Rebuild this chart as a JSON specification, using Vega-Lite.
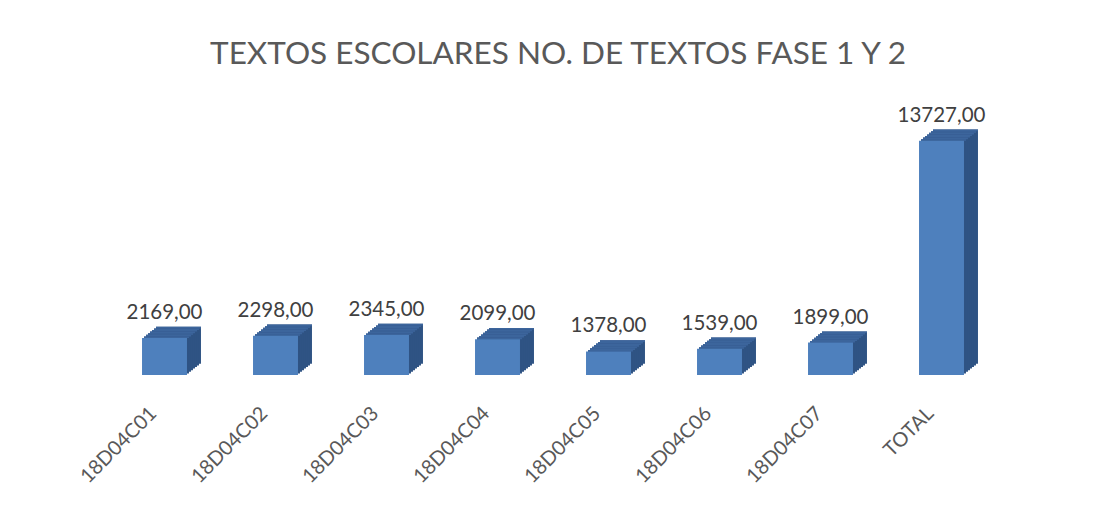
{
  "$schema": "https://vega.github.io/schema/vega-lite/v6.json",
  "autosize": "none",
  "width": 888,
  "height": 273,
  "padding": {"left": 109, "top": 102, "right": 104, "bottom": 133},
  "background": "white",
  "config": {"view": {"stroke": null}, "font": "Lato"},
  "title": {"text": "TEXTOS ESCOLARES NO. DE TEXTOS FASE 1 Y 2", "fontSize": 31.5, "font": "Lato", "fontWeight": "normal", "color": "#595959", "anchor": "middle", "baseline": "alphabetic", "offset": 7, "dx": 5},
  "data": {"values": [
    {"codigo": "18D04C01", "textos": 2169, "etiqueta": "2169,00"},
    {"codigo": "18D04C02", "textos": 2298, "etiqueta": "2298,00"},
    {"codigo": "18D04C03", "textos": 2345, "etiqueta": "2345,00"},
    {"codigo": "18D04C04", "textos": 2099, "etiqueta": "2099,00"},
    {"codigo": "18D04C05", "textos": 1378, "etiqueta": "1378,00"},
    {"codigo": "18D04C06", "textos": 1539, "etiqueta": "1539,00"},
    {"codigo": "18D04C07", "textos": 1899, "etiqueta": "1899,00"},
    {"codigo": "TOTAL", "textos": 13727, "etiqueta": "13727,00"}
  ]},
  "encoding": {
    "x": {"field": "codigo", "type": "nominal", "sort": null,
      "scale": {"paddingInner": 0.595, "paddingOuter": 0.2975},
      "axis": {"title": null, "domain": false, "ticks": false, "labelAngle": -45, "labelFontSize": 20, "labelColor": "#595959", "labelPadding": 28, "labelOffset": -18, "labelFont": "Lato"}},
    "y": {"field": "textos", "type": "quantitative", "scale": {"domain": [0, 16000]}, "axis": null}
  },
  "layer": [
    {"mark": {"type": "bar", "color": "#2f5384", "xOffset": 14, "x2Offset": 14, "yOffset": -11.2, "y2Offset": -11.2}},
    {"mark": {"type": "bar", "color": "#2f5384", "xOffset": 12, "x2Offset": 12, "yOffset": -9.6, "y2Offset": -9.6}},
    {"mark": {"type": "bar", "color": "#2f5384", "xOffset": 10, "x2Offset": 10, "yOffset": -8, "y2Offset": -8}},
    {"mark": {"type": "bar", "color": "#2f5384", "xOffset": 8, "x2Offset": 8, "yOffset": -6.4, "y2Offset": -6.4}},
    {"mark": {"type": "bar", "color": "#2f5384", "xOffset": 6, "x2Offset": 6, "yOffset": -4.8, "y2Offset": -4.8}},
    {"mark": {"type": "bar", "color": "#2f5384", "xOffset": 4, "x2Offset": 4, "yOffset": -3.2, "y2Offset": -3.2}},
    {"mark": {"type": "bar", "color": "#2f5384", "xOffset": 2, "x2Offset": 2, "yOffset": -1.6, "y2Offset": -1.6}},
    {"mark": {"type": "bar", "color": "#3c659c", "xOffset": 14, "x2Offset": 14, "yOffset": -11.2, "y2Offset": -9.6}, "encoding": {"y2": {"field": "textos"}}},
    {"mark": {"type": "bar", "color": "#3c659c", "xOffset": 12, "x2Offset": 12, "yOffset": -9.6, "y2Offset": -8}, "encoding": {"y2": {"field": "textos"}}},
    {"mark": {"type": "bar", "color": "#3c659c", "xOffset": 10, "x2Offset": 10, "yOffset": -8, "y2Offset": -6.4}, "encoding": {"y2": {"field": "textos"}}},
    {"mark": {"type": "bar", "color": "#3c659c", "xOffset": 8, "x2Offset": 8, "yOffset": -6.4, "y2Offset": -4.8}, "encoding": {"y2": {"field": "textos"}}},
    {"mark": {"type": "bar", "color": "#3c659c", "xOffset": 6, "x2Offset": 6, "yOffset": -4.8, "y2Offset": -3.2}, "encoding": {"y2": {"field": "textos"}}},
    {"mark": {"type": "bar", "color": "#3c659c", "xOffset": 4, "x2Offset": 4, "yOffset": -3.2, "y2Offset": -1.6}, "encoding": {"y2": {"field": "textos"}}},
    {"mark": {"type": "bar", "color": "#3c659c", "xOffset": 2, "x2Offset": 2, "yOffset": -1.6, "y2Offset": 0}, "encoding": {"y2": {"field": "textos"}}},
    {"mark": {"type": "bar", "color": "#4e80bd"}},
    {"mark": {"type": "text", "fontSize": 20.5, "color": "#404040", "font": "Lato", "baseline": "alphabetic", "dy": -19}, "encoding": {"text": {"field": "etiqueta"}}}
  ]
}
